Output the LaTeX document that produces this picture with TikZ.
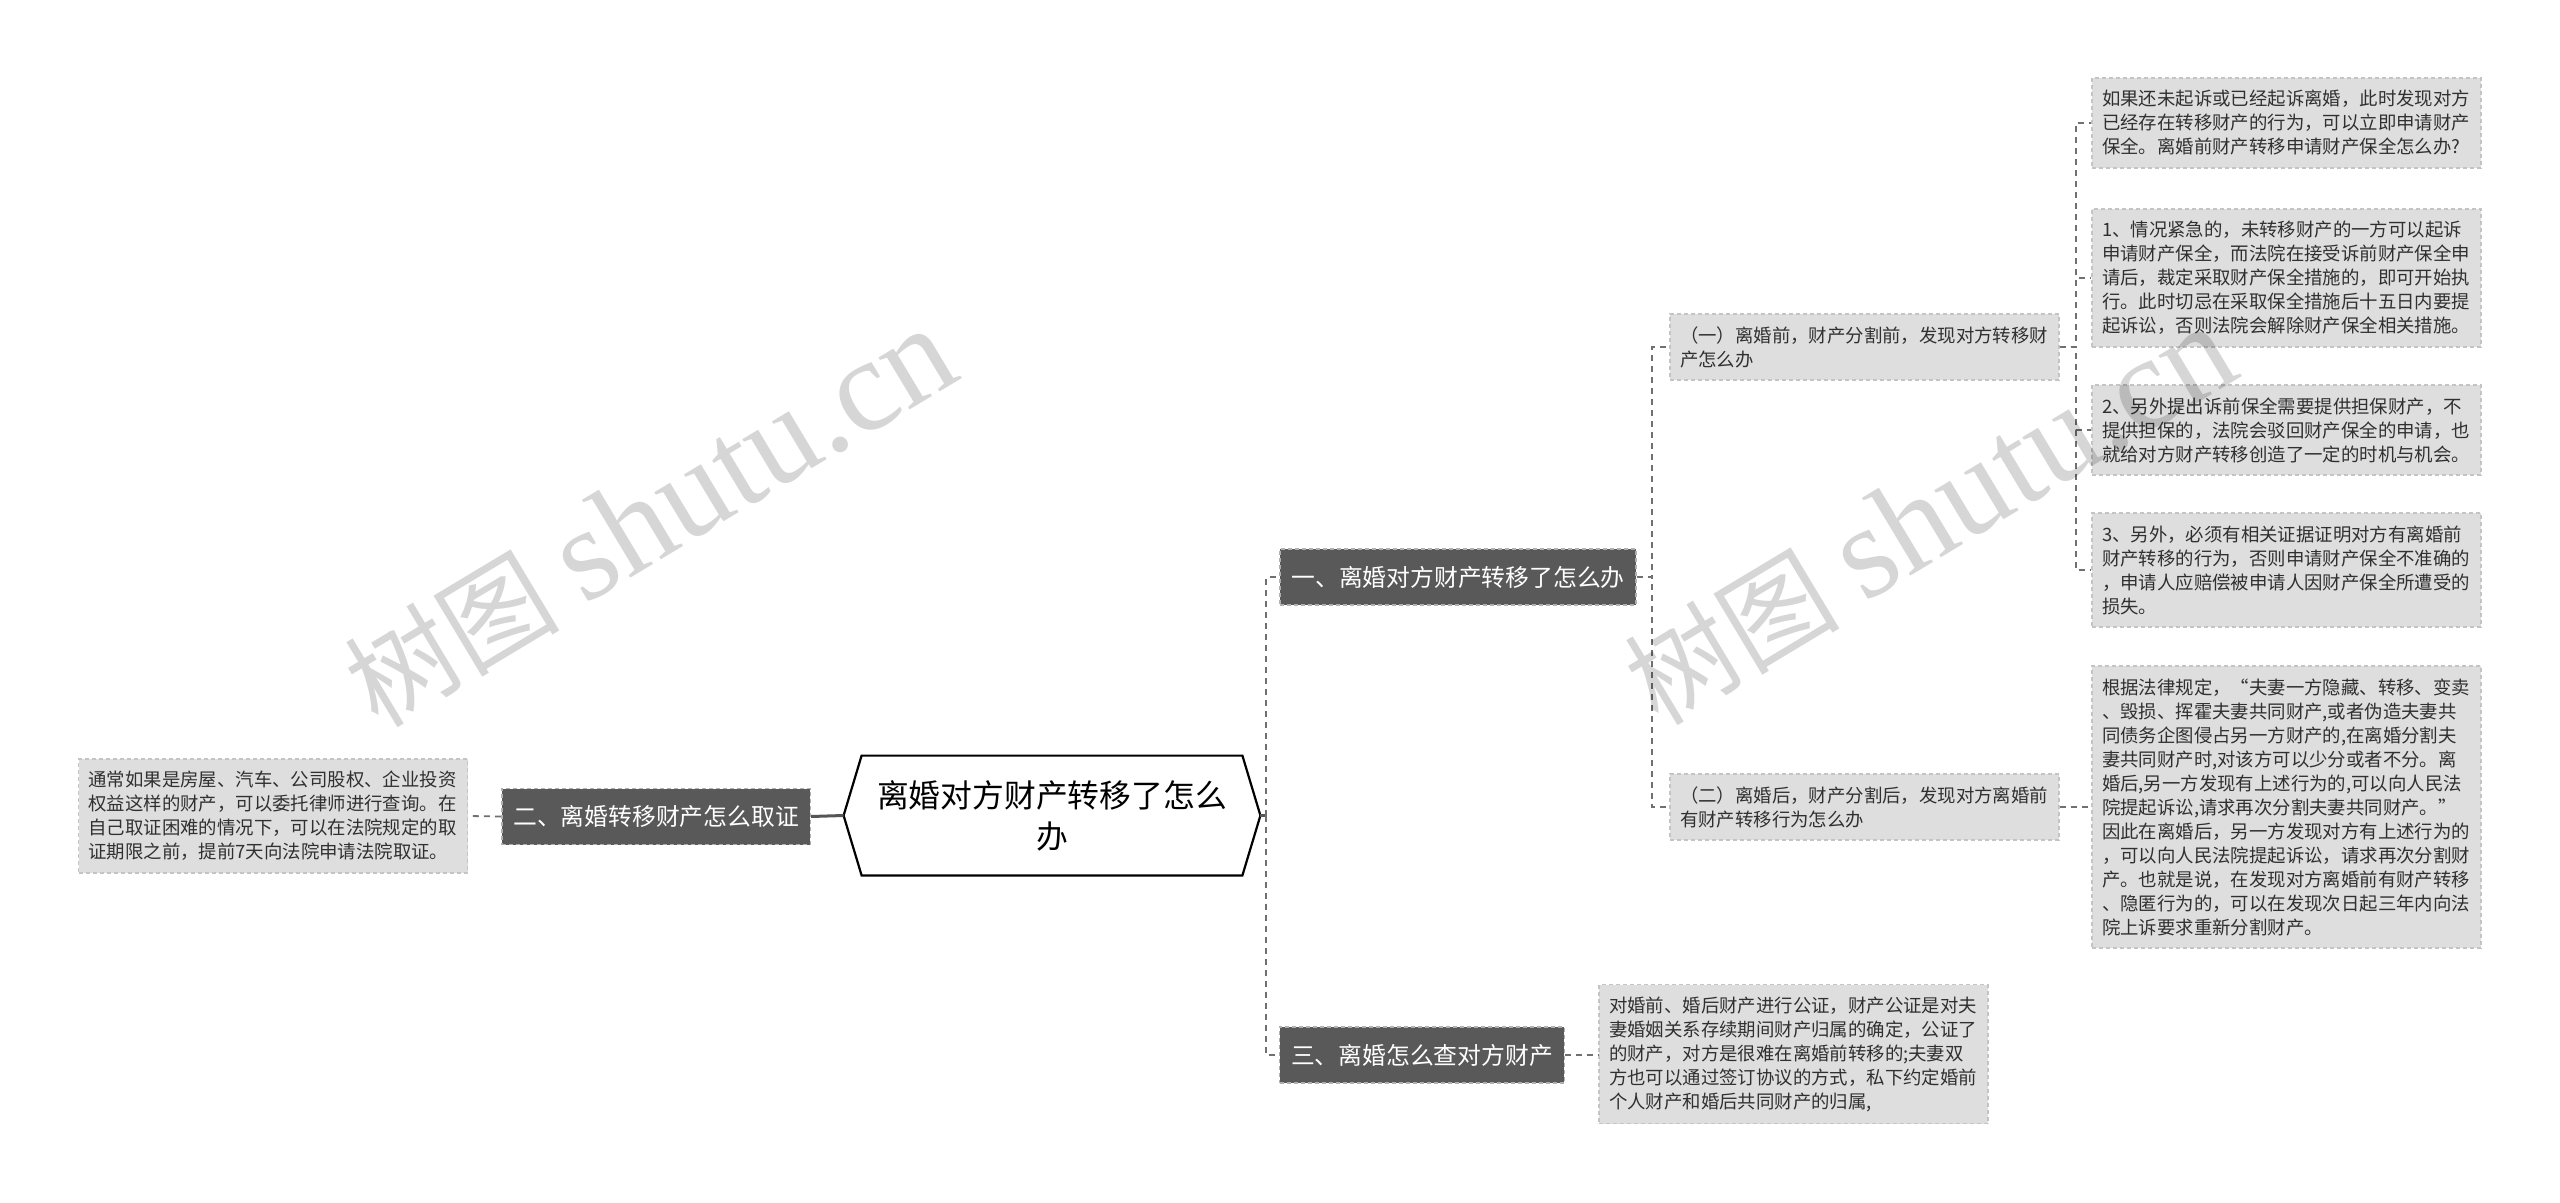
\documentclass[tikz,border=0pt]{standalone}
\usepackage{fontspec}
\setmainfont{Noto Sans CJK SC}
\newfontfamily\wmserif{Liberation Serif}
\usetikzlibrary{calc}
\definecolor{darkbox}{HTML}{595959}
\definecolor{lightbox}{HTML}{DEDEDE}
\definecolor{lightedge}{HTML}{C4C4C4}
\definecolor{darkedge}{HTML}{B0B0B0}
\definecolor{lineg}{HTML}{707070}
\definecolor{solidg}{HTML}{555555}
\definecolor{txt}{HTML}{303030}
\tikzset{
  leaf/.style={rectangle, fill=lightbox, draw=lightedge, line width=0.6pt,
    dash pattern=on 2pt off 1.5pt, text=txt,
    font=\fontsize{9.2pt}{12pt}\selectfont, align=left,
    text width=184.5pt, inner xsep=5pt, inner ysep=0pt},
  topic/.style={rectangle, fill=darkbox, draw=darkedge, line width=0.8pt,
    dash pattern=on 2pt off 1.5pt, text=white,
    font=\fontsize{11.9pt}{14pt}\selectfont, inner xsep=5.75pt,
    inner ysep=0pt, minimum height=28pt},
  dashc/.style={draw=lineg, line width=0.9pt, dash pattern=on 3pt off 2.5pt},
  solidc/.style={draw=solidg, line width=1.5pt},
  wm/.style={rotate=31, text=black, text opacity=0.16,
    font=\fontsize{54pt}{54pt}\selectfont, inner sep=0pt}
}
\begin{document}
\begin{tikzpicture}[x=0.5pt,y=-0.5pt]
\fill[white] (0,0) rectangle (2560,1203);
\useasboundingbox (0,0) rectangle (2560,1203);

% root
\node[font=\fontsize{15.9pt}{20.5pt}\selectfont, align=center,
  minimum width=208pt, minimum height=59.5pt, inner sep=0pt] (root) at (1052,815.5)
  {离婚对方财产转移了怎么\\办};
\draw[line width=1.1pt, fill=white] (root.west) -- ($(root.north west)+(9pt,0)$)
  -- ($(root.north east)+(-9pt,0)$) -- (root.east)
  -- ($(root.south east)+(-9pt,0)$) -- ($(root.south west)+(9pt,0)$) -- cycle;
\node[font=\fontsize{15.9pt}{20.5pt}\selectfont, align=center,
  minimum width=208pt, minimum height=59.5pt, inner sep=0pt] at (root.center)
  {离婚对方财产转移了怎么\\办};

% main topics
\node[topic] (b1) at (1458,577) {一、离婚对方财产转移了怎么办};
\node[topic] (b2) at (656,816.5) {二、离婚转移财产怎么取证};
\node[topic] (b3) at (1422,1055) {三、离婚怎么查对方财产};

% sub topics
\node[leaf, minimum height=33pt] (s1) at (1864.5,347)
  {（一）离婚前，财产分割前，发现对方转移财\\产怎么办};
\node[leaf, minimum height=33pt] (s2) at (1864.5,807)
  {（二）离婚后，财产分割后，发现对方离婚前\\有财产转移行为怎么办};

% leaves
\node[leaf, minimum height=45pt] (l1) at (2286.5,123)
  {如果还未起诉或已经起诉离婚，此时发现对方\\已经存在转移财产的行为，可以立即申请财产\\保全。离婚前财产转移申请财产保全怎么办?};
\node[leaf, minimum height=69pt] (l2) at (2286.5,278)
  {1、情况紧急的，未转移财产的一方可以起诉\\申请财产保全，而法院在接受诉前财产保全申\\请后，裁定采取财产保全措施的，即可开始执\\行。此时切忌在采取保全措施后十五日内要提\\起诉讼，否则法院会解除财产保全相关措施。};
\node[leaf, minimum height=45pt] (l3) at (2286.5,430)
  {2、另外提出诉前保全需要提供担保财产，不\\提供担保的，法院会驳回财产保全的申请，也\\就给对方财产转移创造了一定的时机与机会。};
\node[leaf, minimum height=57pt] (l4) at (2286.5,570)
  {3、另外，必须有相关证据证明对方有离婚前\\财产转移的行为，否则申请财产保全不准确的\\，申请人应赔偿被申请人因财产保全所遭受的\\损失。};
\node[leaf, minimum height=141pt] (l5) at (2286.5,807)
  {根据法律规定，“夫妻一方隐藏、转移、变卖\\、毁损、挥霍夫妻共同财产,或者伪造夫妻共\\同债务企图侵占另一方财产的,在离婚分割夫\\妻共同财产时,对该方可以少分或者不分。离\\婚后,另一方发现有上述行为的,可以向人民法\\院提起诉讼,请求再次分割夫妻共同财产。”\\因此在离婚后，另一方发现对方有上述行为的\\，可以向人民法院提起诉讼，请求再次分割财\\产。也就是说，在发现对方离婚前有财产转移\\、隐匿行为的，可以在发现次日起三年内向法\\院上诉要求重新分割财产。};
\node[leaf, minimum height=69.5pt] (lc) at (1793.5,1054)
  {对婚前、婚后财产进行公证，财产公证是对夫\\妻婚姻关系存续期间财产归属的确定，公证了\\的财产，对方是很难在离婚前转移的;夫妻双\\方也可以通过签订协议的方式，私下约定婚前\\个人财产和婚后共同财产的归属,};
\node[leaf, minimum height=57pt] (ll) at (273,816)
  {通常如果是房屋、汽车、公司股权、企业投资\\权益这样的财产，可以委托律师进行查询。在\\自己取证困难的情况下，可以在法院规定的取\\证期限之前，提前7天向法院申请法院取证。};

% connectors
\coordinate (t1) at (1266,815.5);
\draw[solidc] (root.east) -- (t1);
\draw[dashc] (t1) |- (b1.west);
\draw[dashc] (t1) |- (b3.west);
\draw[solidc] (root.west) -- (b2.east);
\draw[dashc] (b2.west) -- (ll.east);
\draw[dashc] (b1.east) -- ++(15,0) |- (s1.west);
\draw[dashc] (b1.east) -- ++(15,0) |- (s2.west);
\foreach \l in {l1,l2,l3,l4}{
  \draw[dashc] (s1.east) -- ++(16,0) |- (\l.west);
}
\draw[dashc] (s2.east) -- (l5.west);
\draw[dashc] (b3.east) -- (b3.east -| lc.west);

% watermarks
\node[wm] (wm1) at (650,518) {树图 {\wmserif\fontsize{66pt}{66pt}\selectfont shutu.cn}};
\node[wm] (wm2) at (1930,516) {树图 {\wmserif\fontsize{66pt}{66pt}\selectfont shutu.cn}};
\end{tikzpicture}
\end{document}
